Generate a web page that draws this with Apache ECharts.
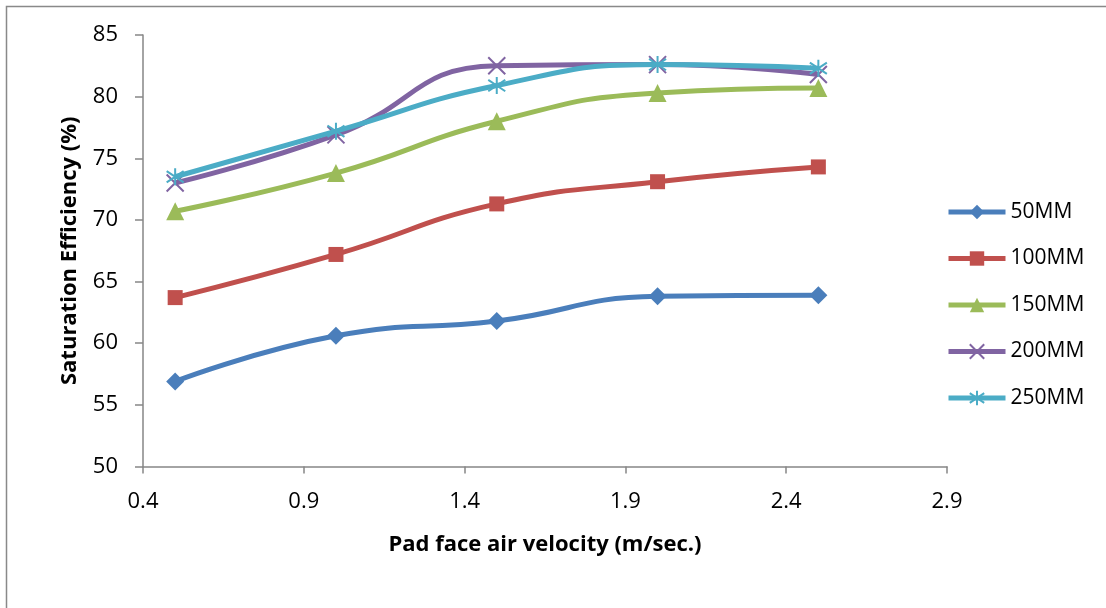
<!DOCTYPE html>
<html>
<head>
<meta charset="utf-8">
<script src="https://cdn.jsdelivr.net/npm/echarts@6/dist/echarts.min.js"></script>
<style>
html,body{margin:0;padding:0;background:#fff;}
#chart{width:1106px;height:608px;}
</style>
</head>
<body>
<div id="chart"></div>
<script>
const velocities = [0.5, 1.0, 1.5, 2.0, 2.5];
const seriesNames = ['50MM', '100MM', '150MM', '200MM', '250MM'];
const eff50 = [56.9, 60.6, 61.8, 63.8, 63.9];
const eff100 = [63.7, 67.2, 71.3, 73.1, 74.3];
const eff150 = [70.7, 73.8, 78.0, 80.3, 80.7];
const eff200 = [73.0, 76.9, 82.5, 82.6, 81.8];
const eff250 = [73.5, 77.2, 80.9, 82.6, 82.3];
const xTicks = [0.4, 0.9, 1.4, 1.9, 2.4, 2.9];
const yTicks = [50, 55, 60, 65, 70, 75, 80, 85];

const colors = ['#4A7EBB', '#C0504D', '#9BBB59', '#8064A2', '#4BACC6'];
const allData = [eff50, eff100, eff150, eff200, eff250];
const symbols = [
  'diamond',
  'rect',
  'triangle',
  'path://M0,0L10,12M10,0L0,12',
  'path://M0,1L10,9M10,1L0,9M5,-1L5,11'
];
const symbolSizes = [18, 15, 18, 17, 17];

const chart = echarts.init(document.getElementById('chart'));
const series = seriesNames.map((name, i) => {
  const isStroke = i >= 3;
  return {
    name: name,
    type: 'line',
    smooth: 0.5,
    data: velocities.map((v, k) => [v, allData[i][k]]),
    symbol: symbols[i],
    symbolSize: symbolSizes[i],
    showAllSymbol: true,
    lineStyle: { color: colors[i], width: 5 },
    itemStyle: isStroke
      ? { color: colors[i], borderColor: colors[i], borderWidth: 2 }
      : { color: colors[i], borderWidth: 0 },
    emphasis: { disabled: true },
    z: 2 + i
  };
});

const fontFam = 'Open Sans';
chart.setOption({
  animation: false,
  backgroundColor: '#fff',
  graphic: [{
    type: 'rect',
    shape: { x: 6.5, y: 6.5, width: 1200, height: 700 },
    style: { fill: 'none', stroke: '#898989', lineWidth: 1.5 },
    silent: true
  }],
  grid: { left: 143, right: 159, top: 35, bottom: 141.5, containLabel: false },
  legend: {
    orient: 'vertical',
    left: 941,
    top: 196,
    itemWidth: 57,
    itemHeight: 18,
    itemGap: 24.5,
    data: seriesNames,
    lineStyle: { width: 5 },
    textStyle: { fontFamily: fontFam, fontSize: 21, lineHeight: 22, color: '#000' }
  },
  xAxis: {
    type: 'value',
    min: xTicks[0],
    max: xTicks[xTicks.length - 1],
    interval: 0.5,
    name: 'Pad face air velocity (m/sec.)',
    nameLocation: 'middle',
    nameGap: 67,
    nameTextStyle: { fontFamily: fontFam, fontSize: 22, fontWeight: 'bold', color: '#000' },
    axisLine: { lineStyle: { color: '#868686', width: 1.5 } },
    axisTick: { show: true, length: 7, inside: false, lineStyle: { color: '#868686', width: 1.5 } },
    axisLabel: {
      fontFamily: fontFam, fontSize: 22, color: '#000', margin: 24,
      formatter: v => Number(v).toFixed(1)
    },
    splitLine: { show: false }
  },
  yAxis: {
    type: 'value',
    min: yTicks[0],
    max: yTicks[yTicks.length - 1],
    interval: 5,
    name: 'Saturation Efficiency (%)',
    nameLocation: 'middle',
    nameGap: 62,
    nameTextStyle: { fontFamily: fontFam, fontSize: 22, fontWeight: 'bold', color: '#000' },
    axisLine: { show: true, lineStyle: { color: '#868686', width: 1.5 } },
    axisTick: { show: true, length: 8, inside: false, lineStyle: { color: '#868686', width: 1.5 } },
    axisLabel: { fontFamily: fontFam, fontSize: 22, color: '#000', margin: 25 },
    splitLine: { show: false }
  },
  series: series
});
</script>
</body>
</html>
